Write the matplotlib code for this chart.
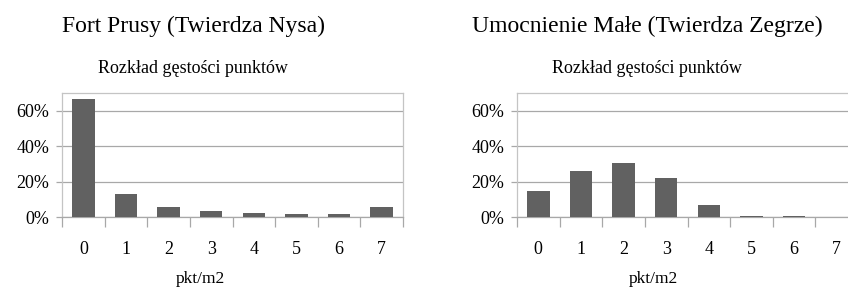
import matplotlib
import matplotlib.pyplot as plt
import numpy as np

matplotlib.use("Agg")

# Gęstość punktów [pkt/m2] i udział procentowy
categories = ["0", "1", "2", "3", "4", "5", "6", "7"]
nysa_share = [66.6, 13.2, 5.9, 3.6, 2.5, 1.5, 1.5, 5.9]
zegrze_share = [14.4, 25.7, 30.3, 21.8, 7.0, 0.8, 0.3, 0.1]

titles = ["Fort Prusy (Twierdza Nysa)", "Umocnienie Małe (Twierdza Zegrze)"]
subtitle = "Rozkład gęstości punktów"
xlabel = "pkt/m2"
yticks = [0, 20, 40, 60]

plt.rcParams["font.family"] = ["Liberation Serif", "DejaVu Serif"]

W, H = 848, 287
fig = plt.figure(figsize=(W / 100, H / 100), dpi=100)


def px(x0, y0, x1, y1):
    return [x0 / W, 1 - y1 / H, (x1 - x0) / W, (y1 - y0) / H]


# (dane, prostokąt osi, środek tytułu/podtytułu, środek etykiety osi x)
panels = [
    (nysa_share, px(62, 93, 403, 217), 193, 200),
    (zegrze_share, px(517, 93, 858, 217), 647, 653),
]

grid_col = "#a8a8a8"
x = np.arange(len(categories))

for (values, rect, tx, lx), title in zip(panels, titles):
    ax = fig.add_axes(rect)
    ax.bar(x, values, width=0.53, color="#616161", zorder=3)
    ax.set_xlim(-0.5, len(categories) - 0.5)
    ax.set_ylim(0, 70)
    ax.set_yticks(yticks)
    ax.set_yticklabels([f"{v}%" for v in yticks])
    ax.yaxis.grid(True, color=grid_col, linewidth=0.9, zorder=0)
    ax.set_xticks(x)
    ax.set_xticklabels(categories)
    ax.set_xticks(np.arange(-0.5, len(categories)), minor=True)
    ax.tick_params(axis="x", which="major", length=0, pad=17, labelsize=13)
    ax.tick_params(axis="x", which="minor", length=7, color=grid_col, width=0.9)
    ax.tick_params(axis="y", length=4, color=grid_col, width=0.9, pad=5, labelsize=13)
    for s in ax.spines.values():
        s.set_color("#c4c4c4")
        s.set_linewidth(0.9)
    ax.spines["bottom"].set_color(grid_col)
    fig.text(tx / W, 1 - 32 / H, title, ha="center", va="baseline", fontsize=17)
    fig.text(tx / W, 1 - 73 / H, subtitle, ha="center", va="baseline", fontsize=13)
    fig.text(lx / W, 1 - 283 / H, xlabel, ha="center", va="baseline", fontsize=12.5)

fig.savefig("out.png", dpi=100)
